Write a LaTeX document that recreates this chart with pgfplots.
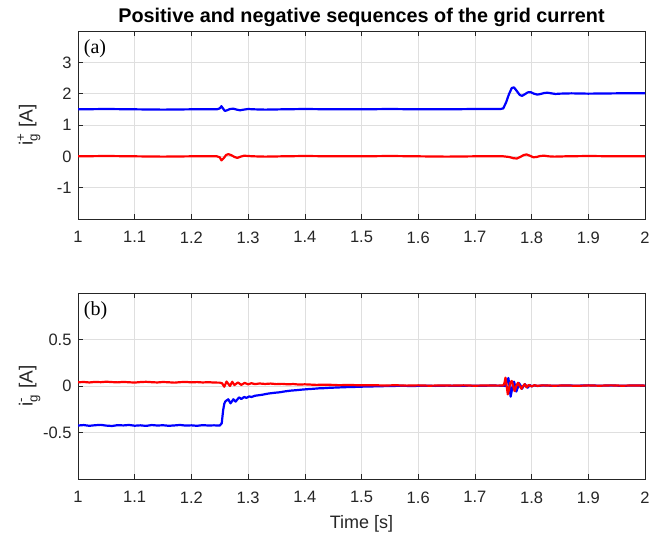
\documentclass[border=0pt]{standalone}
\usepackage{amsmath}
\usepackage{fontspec}
\setmainfont{Liberation Sans}
\newfontfamily\timesfont{Liberation Serif}
\usepackage{pgfplots}
\pgfplotsset{compat=1.18}
\definecolor{axgray}{RGB}{38,38,38}
\definecolor{gridgray}{RGB}{223,223,223}
\pgfplotsset{
  myaxis/.style={
    scale only axis, width=567bp, xmin=1, xmax=2,
    xtick={1,1.1,...,2.01},
    xticklabels={1,1.1,1.2,1.3,1.4,1.5,1.6,1.7,1.8,1.9,2},
    grid=major, major grid style={gridgray, line width=0.6bp},
    axis line style={axgray, line width=0.6bp},
    tick style={axgray, line width=0.6bp},
    tick align=inside, major tick length=5bp,
    /pgf/number format/assume math mode=true,
    ticklabel style={font=\fontsize{16.5bp}{18bp}\selectfont, text=axgray},
    xticklabel style={yshift=-9bp},
    yticklabel style={xshift=-3bp},
    label style={font=\fontsize{18bp}{20bp}\selectfont, text=axgray},
    ylabel style={at={(axis description cs:-0.066,0.5)}, anchor=south, inner sep=0pt, font=\fontsize{19bp}{21bp}\selectfont},
    every axis plot/.append style={line width=2.2bp, line join=round},
  }
}
\begin{document}
\begin{tikzpicture}[x=1bp,y=1bp]
\path[use as bounding box] (0,0) rectangle (649,538);
% ---------- top axis ----------
\begin{axis}[myaxis, at={(78bp,319bp)}, anchor=south west, height=188bp,
  ymin=-2, ymax=4, ytick={-1,0,1,2,3},
  ylabel={i$^{\text{+}}_{\text{g}}$ [A]},
  title={\bfseries Positive and negative sequences of the grid current},
  title style={font=\fontsize{19.8bp}{22bp}\selectfont, at={(axis description cs:0.5,1)}, anchor=base, yshift=3bp, inner sep=0pt},
]
\addplot[blue] coordinates {
(1.00,1.50)(1.05,1.51)(1.10,1.50)(1.15,1.49)(1.20,1.50)(1.245,1.50)
(1.250,1.53)(1.253,1.60)(1.256,1.52)(1.259,1.45)(1.263,1.47)(1.268,1.51)
(1.274,1.52)(1.280,1.49)(1.286,1.47)(1.292,1.49)(1.30,1.51)(1.31,1.50)
(1.33,1.49)(1.36,1.50)(1.40,1.51)(1.45,1.50)(1.50,1.50)(1.55,1.51)
(1.60,1.50)(1.65,1.50)(1.70,1.51)(1.745,1.51)
(1.750,1.53)(1.755,1.72)(1.760,1.98)(1.765,2.18)(1.769,2.20)(1.774,2.08)
(1.779,1.96)(1.783,1.93)(1.788,1.98)(1.793,2.04)(1.798,2.05)(1.804,2.00)
(1.810,1.97)(1.816,1.99)(1.822,2.02)(1.828,2.03)(1.835,2.01)(1.842,1.99)
(1.85,2.00)(1.87,2.01)(1.90,2.00)(1.95,2.01)(2.00,2.01)
};
\addplot[red] coordinates {
(1.00,0.00)(1.05,0.01)(1.10,0.00)(1.15,-0.01)(1.20,0.00)(1.245,0.00)
(1.250,-0.03)(1.253,-0.13)(1.257,-0.06)(1.261,0.04)(1.265,0.07)(1.270,0.04)
(1.276,-0.02)(1.281,-0.05)(1.287,-0.01)(1.293,0.02)(1.30,0.01)(1.31,0.00)
(1.33,-0.01)(1.36,0.00)(1.40,0.01)(1.45,0.00)(1.50,0.00)(1.55,0.01)
(1.60,0.00)(1.65,-0.01)(1.70,0.00)(1.75,0.00)(1.760,-0.02)(1.768,-0.06)
(1.774,-0.07)(1.780,-0.02)(1.786,0.04)(1.791,0.06)(1.797,0.02)(1.803,-0.03)
(1.809,-0.02)(1.815,0.01)(1.822,0.02)(1.83,0.00)(1.84,-0.01)(1.86,0.00)
(1.90,0.01)(1.95,0.00)(2.00,0.00)
};
\node[font=\timesfont\fontsize{20bp}{22bp}\selectfont, anchor=north west, inner sep=0pt]
  at (axis description cs:0.010,0.955) {(a)};
\end{axis}
% ---------- bottom axis ----------
\begin{axis}[myaxis, at={(78bp,59bp)}, anchor=south west, height=186bp,
  ymin=-1, ymax=1, ytick={-0.5,0,0.5},
  yticklabels={-0.5,0,0.5},
  ylabel={i$^{\text{-}}_{\text{g}}$ [A]},
  xlabel={Time [s]},
  xlabel style={at={(axis description cs:0.5,0)}, anchor=base, yshift=-50bp, inner sep=0pt},
]
\addplot[blue] coordinates {
(1.000,-0.425)(1.010,-0.420)(1.020,-0.428)(1.030,-0.422)(1.040,-0.418)
(1.050,-0.426)(1.060,-0.430)(1.070,-0.421)(1.080,-0.424)(1.090,-0.419)
(1.100,-0.427)(1.110,-0.423)(1.120,-0.429)(1.130,-0.420)(1.140,-0.425)
(1.150,-0.422)(1.160,-0.428)(1.170,-0.424)(1.180,-0.419)(1.190,-0.426)
(1.200,-0.423)(1.210,-0.428)(1.220,-0.421)(1.230,-0.425)(1.240,-0.423)
(1.250,-0.426)(1.2535,-0.40)(1.256,-0.26)(1.258,-0.19)(1.260,-0.165)
(1.265,-0.143)(1.269,-0.186)(1.274,-0.143)(1.278,-0.168)(1.284,-0.122)
(1.288,-0.140)(1.293,-0.118)(1.297,-0.128)(1.302,-0.112)(1.306,-0.118)
(1.312,-0.105)(1.318,-0.100)(1.325,-0.094)(1.335,-0.082)(1.345,-0.074)
(1.355,-0.068)(1.365,-0.058)(1.375,-0.050)(1.385,-0.045)(1.395,-0.039)
(1.405,-0.034)(1.415,-0.030)(1.425,-0.025)(1.435,-0.023)(1.445,-0.019)
(1.455,-0.017)(1.465,-0.014)(1.475,-0.012)(1.485,-0.011)(1.495,-0.008)
(1.510,-0.006)(1.530,-0.003)(1.550,0.000)(1.570,0.002)(1.590,0.000)
(1.610,0.003)(1.630,0.001)(1.650,0.004)(1.670,0.002)(1.690,0.004)
(1.710,0.002)(1.730,0.005)(1.750,0.003)(1.754,0.000)(1.756,0.040)
(1.759,0.085)(1.761,0.000)(1.763,-0.115)(1.765,-0.050)(1.767,0.020)
(1.769,0.046)(1.771,0.000)(1.773,-0.060)(1.776,-0.010)(1.778,0.030)
(1.781,0.000)(1.783,-0.030)(1.786,0.000)(1.788,0.020)(1.791,0.000)
(1.793,-0.018)(1.797,0.010)(1.800,-0.004)(1.805,0.007)(1.810,0.000)
(1.820,0.006)(1.840,0.002)(1.860,0.006)(1.880,0.003)(1.900,0.007)
(1.920,0.003)(1.940,0.006)(1.960,0.002)(1.980,0.006)(2.000,0.004)
};
\addplot[red] coordinates {
(1.000,0.040)(1.010,0.043)(1.020,0.038)(1.030,0.044)(1.040,0.041)
(1.050,0.046)(1.060,0.042)(1.070,0.039)(1.080,0.044)(1.090,0.040)
(1.100,0.037)(1.110,0.042)(1.120,0.045)(1.130,0.041)(1.140,0.038)
(1.150,0.043)(1.160,0.040)(1.170,0.036)(1.180,0.041)(1.190,0.044)
(1.200,0.039)(1.210,0.042)(1.220,0.038)(1.230,0.041)(1.240,0.037)
(1.250,0.036)(1.254,0.030)(1.258,-0.008)(1.262,0.048)(1.268,0.000)
(1.272,0.045)(1.276,0.010)(1.282,0.038)(1.288,0.012)(1.294,0.033)
(1.300,0.018)(1.306,0.030)(1.312,0.020)(1.320,0.027)(1.330,0.022)
(1.340,0.026)(1.350,0.020)(1.360,0.023)(1.370,0.018)(1.380,0.021)
(1.390,0.015)(1.400,0.018)(1.420,0.012)(1.440,0.014)(1.460,0.009)
(1.480,0.011)(1.500,0.007)(1.520,0.009)(1.540,0.005)(1.560,0.008)
(1.580,0.004)(1.600,0.007)(1.620,0.003)(1.640,0.006)(1.660,0.004)
(1.680,0.007)(1.700,0.003)(1.720,0.006)(1.740,0.004)(1.750,0.005)
(1.752,0.030)(1.754,0.090)(1.756,0.000)(1.758,-0.090)(1.760,-0.040)
(1.762,0.030)(1.765,0.055)(1.768,-0.010)(1.770,-0.055)(1.773,0.000)
(1.776,0.035)(1.779,0.000)(1.782,-0.030)(1.785,0.000)(1.788,0.020)
(1.791,-0.015)(1.795,0.012)(1.800,-0.005)(1.805,0.008)(1.810,0.002)
(1.820,0.007)(1.840,0.003)(1.860,0.006)(1.880,0.002)(1.900,0.006)
(1.920,0.003)(1.940,0.007)(1.960,0.003)(1.980,0.006)(2.000,0.004)
};
\node[font=\timesfont\fontsize{20bp}{22bp}\selectfont, anchor=north west, inner sep=0pt]
  at (axis description cs:0.010,0.955) {(b)};
\end{axis}
\end{tikzpicture}
\end{document}
